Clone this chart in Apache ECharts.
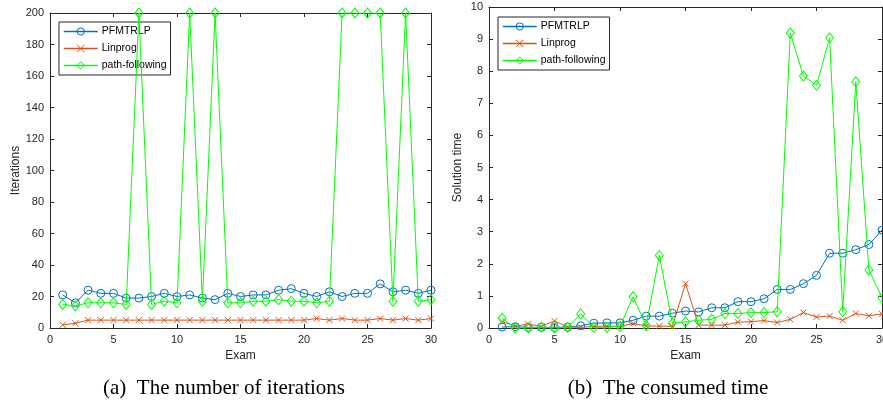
<!DOCTYPE html>
<html><head><meta charset="utf-8">
<script src="https://cdn.jsdelivr.net/npm/echarts@6/dist/echarts.min.js"></script>
<style>html,body{margin:0;padding:0;background:#fff}#c{width:883px;height:401px}</style>
</head><body><div id="c"></div>
<script>
const exams = [1,2,3,4,5,6,7,8,9,10,11,12,13,14,15,16,17,18,19,20,21,22,23,24,25,26,27,28,29,30];
const iterPF = [21,16,24,22,22,19,19,20,22,20,21,19,18,22,20,21,21,24,25,22,20,23,20,22,22,28,23,24,22,24];
const iterLin = [2,3,5,5,5,5,5,5,5,5,5,5,5,5,5,5,5,5,5,5,6,5,6,5,5,6,5,6,5,6];
const iterPath = [15,14,16,16,16,15,200,15,17,16,200,17,200,16,16,17,17,18,17,17,16,17,200,200,200,200,17,200,17,18];
const timePF = [0.03,0.04,0.02,0.02,0.02,0.03,0.07,0.15,0.16,0.16,0.24,0.37,0.37,0.46,0.53,0.5,0.63,0.63,0.82,0.82,0.91,1.2,1.2,1.38,1.64,2.33,2.33,2.44,2.6,3.05];
const timeLin = [0.2,0.06,0.12,0.05,0.22,0.03,0.02,0.05,0.06,0.05,0.14,0.06,0.06,0.05,1.38,0.09,0.09,0.09,0.18,0.2,0.23,0.17,0.27,0.48,0.34,0.37,0.24,0.45,0.38,0.44];
const timePath = [0.3,0.0,0.0,0.03,0.0,0.02,0.44,0.02,0.02,0.05,0.97,0.07,2.26,0.15,0.19,0.24,0.27,0.45,0.45,0.48,0.48,0.51,9.19,7.85,7.56,9.04,0.51,7.67,1.81,0.94];
const seriesNames = ['PFMTRLP','Linprog','path-following'];
const xTicks = {min:0, max:30, interval:5};
const yIter = {min:0, max:200, interval:20};
const yTime = {min:0, max:10, interval:1};
const captions = ['(a)  The number of iterations','(b)  The consumed time'];

const AX = '#262626';
const FONT = 'Liberation Sans';
const COLORS = ['#0072BD','#D95319','#00FF00'];
const SYMS = ['circle','path://M0,0L10,10M10,0L0,10','diamond'];
const SIZES = [8,6,[8,10]];

function axisBase(show){
  return {
    axisLine:{show:true,onZero:false,lineStyle:{color:AX,width:1}},
    axisTick:{show:true,inside:true,length:4,lineStyle:{color:AX,width:1}},
    axisLabel:{show:show,color:AX,fontFamily:FONT,fontSize:11},
    splitLine:{show:false}
  };
}
function xAxes(gi){
  return [
    Object.assign(axisBase(true),{gridIndex:gi,type:'value',position:'bottom',min:xTicks.min,max:xTicks.max,interval:xTicks.interval,
      name:'Exam',nameLocation:'middle',nameGap:22,nameTextStyle:{color:AX,fontFamily:FONT,fontSize:12},axisLabel:{color:AX,fontFamily:FONT,fontSize:11,margin:6}}),
    Object.assign(axisBase(false),{gridIndex:gi,type:'value',position:'top',min:xTicks.min,max:xTicks.max,interval:xTicks.interval})
  ];
}
function yAxes(gi,r,name,gap){
  return [
    Object.assign(axisBase(true),{gridIndex:gi,type:'value',position:'left',min:r.min,max:r.max,interval:r.interval,
      name:name,nameLocation:'middle',nameGap:gap,nameTextStyle:{color:AX,fontFamily:FONT,fontSize:12},axisLabel:{color:AX,fontFamily:FONT,fontSize:11,margin:6}}),
    Object.assign(axisBase(false),{gridIndex:gi,type:'value',position:'right',min:r.min,max:r.max,interval:r.interval})
  ];
}
function mkSeries(gi,arrs){
  return arrs.map((arr,i)=>({
    name:seriesNames[i],type:'line',xAxisIndex:gi*2,yAxisIndex:gi*2,
    data:exams.map((x,k)=>[x,arr[k]]),
    symbol:SYMS[i],symbolSize:SIZES[i],showSymbol:true,
    lineStyle:{color:COLORS[i],width:1},
    itemStyle:{color:'rgba(0,0,0,0)',borderColor:COLORS[i],borderWidth:1},
    emphasis:{disabled:true},animation:false,z:2+i
  }));
}
function legend(gi,left,top){
  return {
    show:true,orient:'vertical',left:left,top:top,
    data:seriesNames.map((n,i)=>({name:n,itemStyle:{color:'rgba(0,0,0,0)',borderColor:COLORS[i],borderWidth:1},lineStyle:{color:COLORS[i],width:1.5}})),
    itemWidth:34,itemHeight:9,itemGap:6,padding:[4,4,4,4],
    borderColor:AX,borderWidth:1,backgroundColor:'#fff',borderRadius:0,
    textStyle:{color:'#000',fontFamily:FONT,fontSize:10.5,padding:[0,0,0,-1]},
    selectedMode:false
  };
}
const chart = echarts.init(document.getElementById('c'),null,{renderer:'canvas'});
const xa = xAxes(0).concat(xAxes(1));
const ya = yAxes(0,yIter,'Iterations',27).concat(yAxes(1,yTime,'Solution time',25));
const s1 = mkSeries(0,[iterPF,iterLin,iterPath]);
const s2 = mkSeries(1,[timePF,timeLin,timePath]);
chart.setOption({
  animation:false,
  backgroundColor:'#fff',
  grid:[
    {left:50,right:452,top:13,bottom:73,containLabel:false,outerBoundsMode:'none'},
    {left:489,right:1,top:7,bottom:73,containLabel:false,outerBoundsMode:'none'}
  ],
  xAxis:xa,yAxis:ya,
  legend:[legend(0,59,22),legend(1,498,17)],
  series:s1.concat(s2),
  graphic:[
    {type:'text',x:224,y:388,style:{text:captions[0],fill:'#000',font:'21px "Liberation Serif"',textAlign:'center',textVerticalAlign:'middle'}},
    {type:'text',x:668,y:388,style:{text:captions[1],fill:'#000',font:'21px "Liberation Serif"',textAlign:'center',textVerticalAlign:'middle'}}
  ]
});
</script></body></html>
